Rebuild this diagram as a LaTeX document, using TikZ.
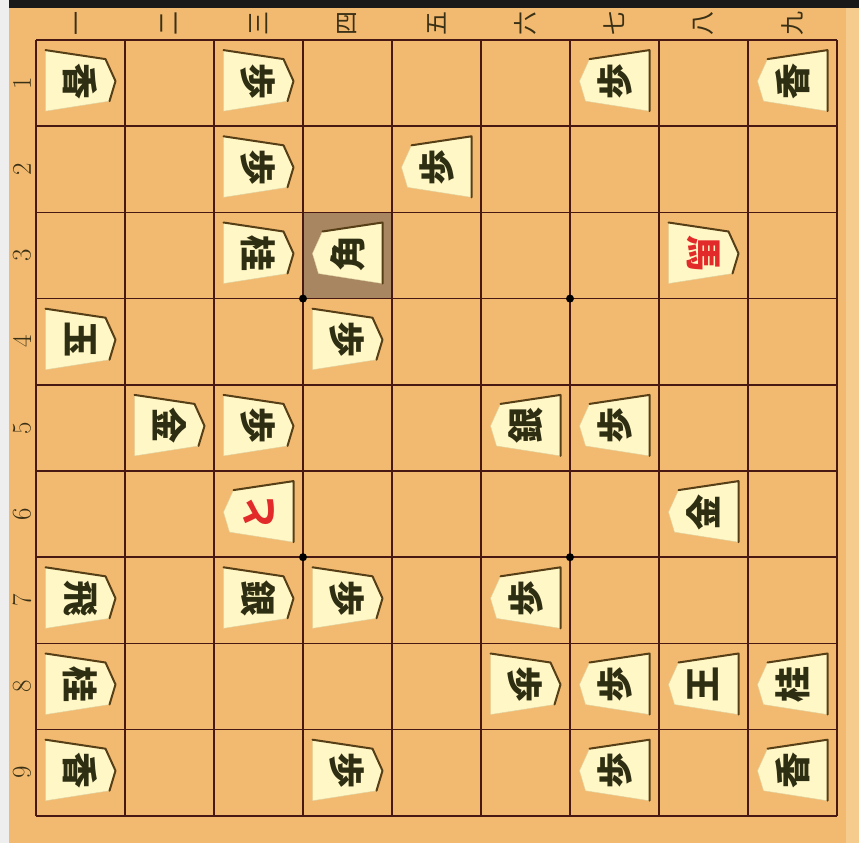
\documentclass[tikz,border=0pt]{standalone}
\usepackage{fontspec}
\newfontfamily\kanji{Noto Sans CJK JP}
\usetikzlibrary{calc}
\definecolor{side}{RGB}{238,238,238}
\definecolor{ban}{RGB}{242,186,112}
\definecolor{banr}{RGB}{246,204,142}
\definecolor{sen}{RGB}{72,24,18}
\definecolor{hl}{RGB}{168,134,98}
\definecolor{kf}{RGB}{255,247,198}
\definecolor{kedge}{RGB}{86,62,22}
\definecolor{kt}{RGB}{46,46,18}
\definecolor{kr}{RGB}{226,42,42}
\definecolor{lb}{RGB}{58,48,22}
\tikzset{
  banline/.style={draw=sen,line width=1.7pt},
  hoshi/.style={circle,fill=black,inner sep=0pt,minimum size=8pt},
  lbl/.style={font=\kanji\fontsize{24}{24}\selectfont,text=lb,inner sep=0pt,rotate=90},
  moji/.style={font=\kanji\bfseries\fontsize{36}{36}\selectfont,inner sep=0pt},
  kline/.style={draw=kedge,line width=2pt,line join=round,line cap=round},
}
% gote piece: tip to the right
\newcommand{\gotekoma}[4]{%
  \begin{scope}[shift={({36+89*(#1-0.5)},{40+86.2*(#2-0.5)})}]
    \fill[kf,draw=kf!80!kedge,line width=0.4pt] (-35,-33) -- (25,-24) -- (35,-2) -- (29,18) -- (-35,28) -- cycle;
    \draw[kline] (-35,-33) -- (25,-24) -- (35,-2) -- (29,18);
    \node[moji,text=#4,rotate=-90] (g#1#2) at (0,-2) {#3};
  \end{scope}}
% sente piece: tip to the left
\newcommand{\sentekoma}[4]{%
  \begin{scope}[shift={({36+89*(#1-0.5)},{40+86.2*(#2-0.5)})}]
    \fill[kf,draw=kf!80!kedge,line width=0.4pt] (35,-33) -- (-25,-24) -- (-35,-2) -- (-29,18) -- (35,28) -- cycle;
    \draw[kline] (-25,-24) -- (35,-33) -- (35,28);
    \node[moji,text=#4,rotate=90] (s#1#2) at (0,-2) {#3};
  \end{scope}}
\begin{document}
\begin{tikzpicture}[x=1pt,y=-1pt]
  \useasboundingbox (0,0) rectangle (859,843);

  % ── board ground ─────────────────────────────────────────────
  \fill[side] (0,0) rectangle (859,843);
  \fill[ban] (9,0) rectangle (859,843);
  \fill[banr] (846,0) rectangle (859,843);
  \fill[black!90] (9,0) rectangle (859,8);

  % last move square
  \fill[hl] (303,{40+86.2*2}) rectangle (392,{40+86.2*3});

  % ── grid ─────────────────────────────────────────────────────
  \foreach \i in {0,...,9} {
    \draw[banline] ({36+89*\i},40) -- ({36+89*\i},816);
    \draw[banline] (36,{40+86.2*\i}) -- (837,{40+86.2*\i});
  }
  \foreach \i/\j in {3/3,6/3,3/6,6/6}
    \node[hoshi] (h\i\j) at ({36+89*\i},{40+86.2*\j}) {};

  % ── labels ───────────────────────────────────────────────────
  \foreach \k [count=\n] in {一,二,三,四,五,六,七,八,九}
    \node[lbl] (dan\n) at ({36+89*(\n-0.5)},24) {\k};
  \foreach \n in {1,...,9}
    \node[lbl,font=\fontsize{27}{27}\selectfont] (suji\n) at (22,{40+86.2*(\n-0.5)}) {\n};

  % ── pieces ───────────────────────────────────────────────────
  \foreach \c/\r/\k in {1/1/香,3/1/歩,3/2/歩,3/3/桂,1/4/玉,4/4/歩,2/5/金,3/5/歩,
                        1/7/飛,3/7/銀,4/7/歩,1/8/桂,6/8/歩,1/9/香,4/9/歩}
    \gotekoma{\c}{\r}{\k}{kt};
  \gotekoma{8}{3}{馬}{kr};

  \foreach \c/\r/\k in {7/1/歩,9/1/香,5/2/歩,4/3/角,6/5/銀,7/5/歩,8/6/金,
                        6/7/歩,7/8/歩,8/8/王,9/8/桂,7/9/歩,9/9/香}
    \sentekoma{\c}{\r}{\k}{kt};
  \sentekoma{3}{6}{と}{kr};

\end{tikzpicture}
\end{document}
